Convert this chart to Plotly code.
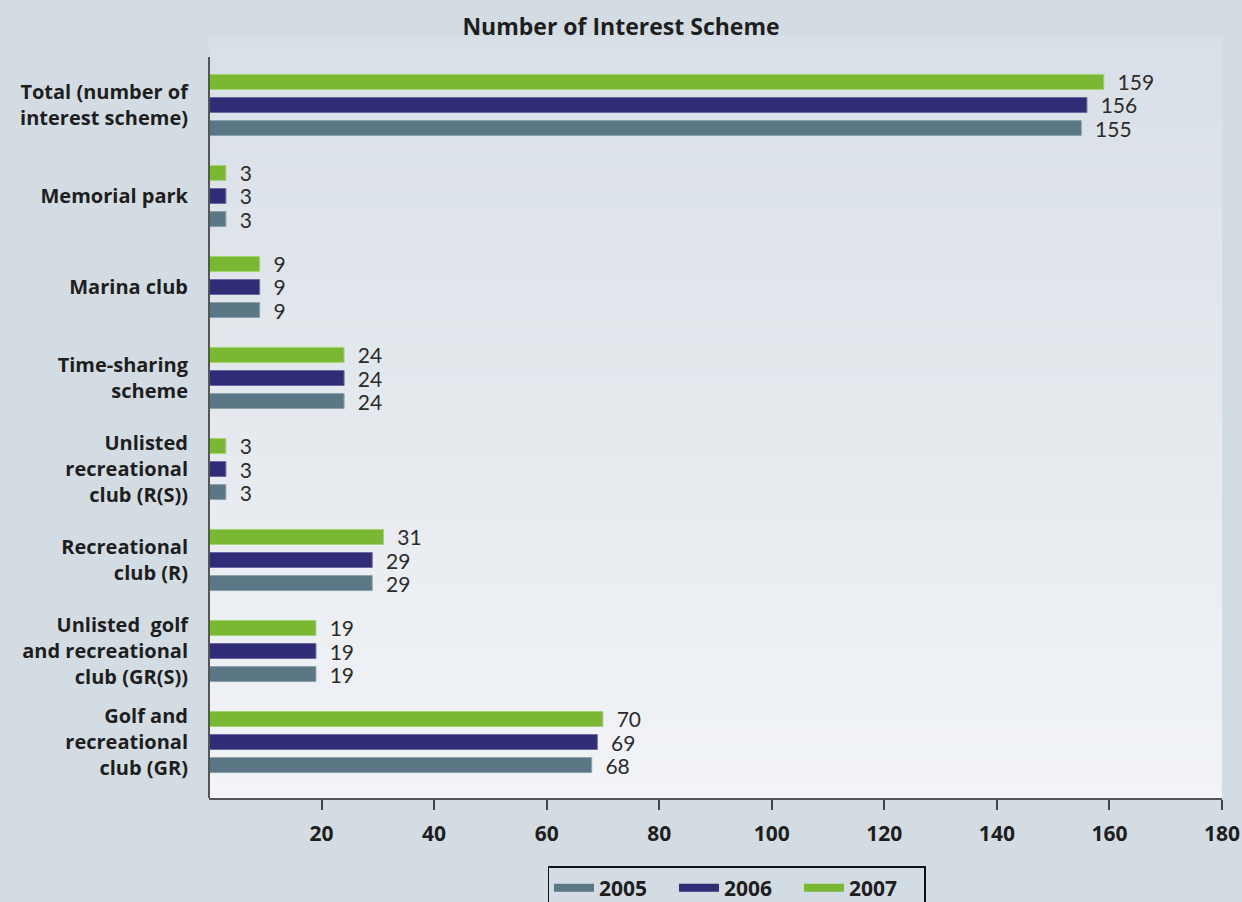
import plotly.graph_objects as go

# Categories listed bottom to top
categories = [
    "Golf and<br>recreational<br>club (GR)",
    "Unlisted  golf<br>and recreational<br>club (GR(S))",
    "Recreational<br>club (R)",
    "Unlisted<br>recreational<br>club (R(S))",
    "Time-sharing<br>scheme",
    "Marina club",
    "Memorial park",
    "Total (number of<br>interest scheme)",
]
values_2005 = [68, 19, 29, 3, 24, 9, 3, 155]
values_2006 = [69, 19, 29, 3, 24, 9, 3, 156]
values_2007 = [70, 19, 31, 3, 24, 9, 3, 159]

series = [
    ("2005", values_2005, "#5b7785", "#8aa0ab"),
    ("2006", values_2006, "#2e2d75", "#6a69a3"),
    ("2007", values_2007, "#7ab733", "#a6d46e"),
]
x_ticks = [20, 40, 60, 80, 100, 120, 140, 160, 180]

FONT = "Open Sans"
VALUE_FONT = "Lato"
paper_bg = "#d4dce3"
NBSP = "\u00a0"

fig = go.Figure()
ypos = list(range(len(categories)))

for name, vals, color, edge in series:
    fig.add_trace(go.Bar(
        name=name, y=ypos, x=vals, orientation="h",
        marker=dict(color=color, line=dict(color=edge, width=1)),
        text=[NBSP * 2 + str(v) for v in vals], textposition="outside",
        constraintext="none",
        textfont=dict(family=VALUE_FONT, size=21, color="#2b2b2b"),
        cliponaxis=False, showlegend=False,
    ))

# Line-style legend entries
for name, vals, color, edge in series:
    fig.add_trace(go.Scatter(
        name=name, x=[None], y=[None], mode="lines",
        line=dict(color=color, width=8), showlegend=True,
    ))

# Vertical gradient for the plotting area
shapes = []
n = 60
top_rgb = (0xd8, 0xdf, 0xe6)
bot_rgb = (0xf2, 0xf4, 0xf7)
for i in range(n):
    t = (i + 0.5) / n
    r = round(bot_rgb[0] + (top_rgb[0] - bot_rgb[0]) * t)
    g = round(bot_rgb[1] + (top_rgb[1] - bot_rgb[1]) * t)
    b = round(bot_rgb[2] + (top_rgb[2] - bot_rgb[2]) * t)
    shapes.append(dict(
        type="rect", xref="x domain", yref="y domain",
        x0=0, x1=1, y0=i / n, y1=(i + 1) / n + 0.002,
        fillcolor=f"rgb({r},{g},{b})", line=dict(width=0), layer="below",
    ))
# Left axis line
shapes.append(dict(
    type="line", xref="x domain", yref="y domain",
    x0=0, x1=0, y0=0, y1=0.975, line=dict(color="#555555", width=2),
))

fig.update_layout(
    width=1242, height=902,
    paper_bgcolor=paper_bg, plot_bgcolor="rgba(0,0,0,0)",
    margin=dict(l=209, r=20, t=38, b=104),
    barmode="group", bargap=0.24, bargroupgap=0.35,
    title=dict(
        text="Number of Interest Scheme",
        x=0.5, xanchor="center", y=0.97, yanchor="middle",
        font=dict(family=FONT, size=23, color="#1e1e1e", weight=700),
    ),
    xaxis=dict(
        range=[0, 180], tickvals=x_ticks,
        showgrid=False, zeroline=False, automargin=False,
        showline=True, linecolor="#555555", linewidth=2,
        ticks="outside", ticklen=10, tickwidth=1.5, tickcolor="#444444",
        ticklabelstandoff=6,
        tickfont=dict(family=FONT, size=21, color="#1e1e1e", weight=700),
    ),
    yaxis=dict(
        range=[-0.615, 7.736], tickvals=ypos, ticktext=categories,
        showgrid=False, zeroline=False, showline=False, ticks="",
        automargin=False, ticklabelstandoff=20,
        tickfont=dict(family=FONT, size=20, color="#1e1e1e", weight=700),
    ),
    legend=dict(
        orientation="h", xref="container", yref="container",
        x=0.593, xanchor="center", y=1 - 866 / 902, yanchor="top",
        bgcolor=paper_bg, bordercolor="#111111", borderwidth=1.5,
        font=dict(family=FONT, size=21, color="#1e1e1e", weight=700),
        itemwidth=40, entrywidth=70, traceorder="normal",
    ),
    shapes=shapes,
)

fig.write_html("out.html")
